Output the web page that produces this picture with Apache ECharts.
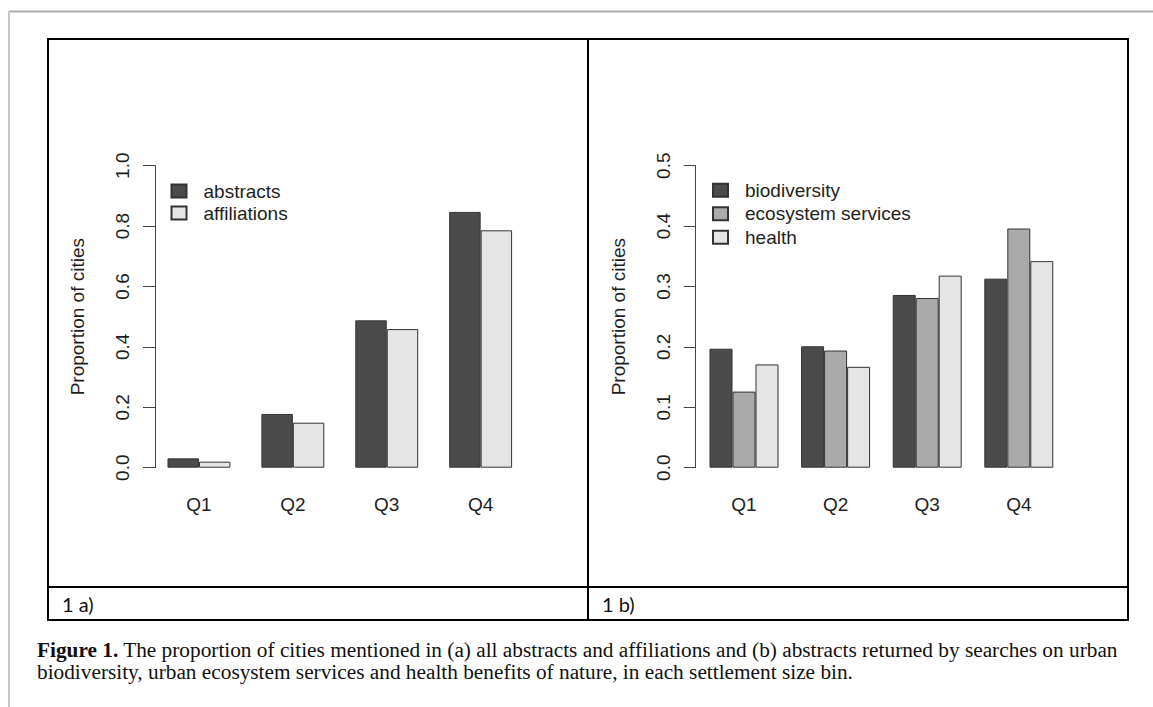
<!DOCTYPE html>
<html>
<head>
<meta charset="utf-8">
<script src="https://cdn.jsdelivr.net/npm/echarts@6/dist/echarts.min.js"></script>
<style>
html,body{margin:0;padding:0;background:#fff;}
#chart{width:1153px;height:707px;}
</style>
</head>
<body>
<div id="chart"></div>
<script>
// ---- data ----
var categories = ['Q1', 'Q2', 'Q3', 'Q4'];
var abstractsA = [0.031, 0.178, 0.488, 0.847];
var affiliationsA = [0.020, 0.149, 0.459, 0.786];
var biodiversityB = [0.197, 0.201, 0.286, 0.313];
var ecosystemB = [0.126, 0.194, 0.281, 0.396];
var healthB = [0.171, 0.167, 0.318, 0.342];
var yTicksA = [0, 0.2, 0.4, 0.6, 0.8, 1.0];
var yTicksB = [0, 0.1, 0.2, 0.3, 0.4, 0.5];
var panelLabels = ['1 a)', '1 b)'];
var captionBold = 'Figure 1.';
var captionLine1 = ' The proportion of cities mentioned in (a) all abstracts and affiliations and (b) abstracts returned by searches on urban';
var captionLine2 = 'biodiversity, urban ecosystem services and health benefits of nature, in each settlement size bin.';

var DARK = '#4b4b4b', MID = '#aaaaaa', LIGHT = '#e5e5e5', EDGE = '#333333';
var TXT = '#1e1e1e';
var FONT = 'Liberation Sans, Arial, sans-serif';

var chart = echarts.init(document.getElementById('chart'), null, {renderer: 'svg'});

function yAxisCfg(gridIndex, ticks, offset) {
  return {
    type: 'value', gridIndex: gridIndex,
    min: ticks[0], max: ticks[ticks.length - 1],
    interval: ticks[1] - ticks[0],
    offset: offset,
    name: 'Proportion of cities', nameLocation: 'middle', nameGap: 68,
    nameTextStyle: {fontFamily: FONT, fontSize: 19, color: TXT},
    axisLine: {show: true, lineStyle: {color: '#444', width: 1}},
    axisTick: {show: true, length: 12, lineStyle: {color: '#444', width: 1}},
    splitLine: {show: false},
    axisLabel: {rotate: 90, margin: 23, fontFamily: FONT, fontSize: 19, color: TXT,
      formatter: function (v) { return v.toFixed(1); }}
  };
}
function xAxisCfg(gridIndex) {
  return {
    type: 'category', gridIndex: gridIndex, data: categories,
    axisLine: {show: false}, axisTick: {show: false}, splitLine: {show: false},
    axisLabel: {margin: 27, fontFamily: FONT, fontSize: 19, color: TXT}
  };
}
function barSeries(name, data, color, idx, gap) {
  return {
    type: 'bar', name: name, data: data,
    xAxisIndex: idx, yAxisIndex: idx,
    barGap: '0%', barCategoryGap: gap,
    itemStyle: {color: color, borderColor: EDGE, borderWidth: 1},
    emphasis: {disabled: true}, animation: false
  };
}
function legendCfg(names, left, top, lh) {
  return {
    orient: 'vertical', left: left, top: top, data: names, padding: 0,
    icon: 'rect', itemWidth: 15, itemHeight: 13, itemGap: 0,
    selectedMode: false,
    textStyle: {fontFamily: FONT, fontSize: 19, color: TXT, lineHeight: lh, padding: [0, 0, 0, 12]}
  };
}

var option = {
  backgroundColor: '#ffffff',
  animation: false,
  grid: [
    {left: 152, top: 165.7, width: 375.6, height: 302, containLabel: false},
    {left: 698.2, top: 165.7, width: 366.4, height: 302, containLabel: false}
  ],
  xAxis: [xAxisCfg(0), xAxisCfg(1)],
  yAxis: [yAxisCfg(0, yTicksA, -3), yAxisCfg(1, yTicksB, 2.5)],
  legend: [
    legendCfg(['abstracts', 'affiliations'], 170.5, 180, 22),
    legendCfg(['biodiversity', 'ecosystem services', 'health'], 712, 178.5, 23.5)
  ],
  series: [
    barSeries('abstracts', abstractsA, DARK, 0, '33%'),
    barSeries('affiliations', affiliationsA, LIGHT, 0, '33%'),
    barSeries('biodiversity', biodiversityB, DARK, 1, '24.7%'),
    barSeries('ecosystem services', ecosystemB, MID, 1, '24.7%'),
    barSeries('health', healthB, LIGHT, 1, '24.7%')
  ],
  graphic: [
    // page frame
    {type: 'line', shape: {x1: 9, y1: 11.5, x2: 1153, y2: 11.5}, style: {stroke: '#a9a9a9', lineWidth: 2}, silent: true},
    {type: 'line', shape: {x1: 9, y1: 11, x2: 9, y2: 707}, style: {stroke: '#c8c8c8', lineWidth: 2}, silent: true},
    // table
    {type: 'rect', shape: {x: 48, y: 39, width: 1080, height: 581}, style: {fill: 'none', stroke: '#000', lineWidth: 2}, silent: true},
    {type: 'line', shape: {x1: 588, y1: 39, x2: 588, y2: 620}, style: {stroke: '#000', lineWidth: 2}, silent: true},
    {type: 'line', shape: {x1: 48, y1: 587, x2: 1128, y2: 587}, style: {stroke: '#000', lineWidth: 2}, silent: true},
    {type: 'text', x: 62, y: 604, style: {text: panelLabels[0], font: '20px Lato, "Open Sans", sans-serif', fill: '#111', verticalAlign: 'middle'}, silent: true},
    {type: 'text', x: 602, y: 604, style: {text: panelLabels[1], font: '20px Lato, "Open Sans", sans-serif', fill: '#111', verticalAlign: 'middle'}, silent: true},
    // caption
    {type: 'text', x: 37, y: 650, silent: true,
      style: {text: '{b|' + captionBold + '}' + '{n|' + captionLine1 + '}', verticalAlign: 'middle',
        rich: {
          b: {fontFamily: 'Liberation Serif, serif', fontSize: 21.3, fontWeight: 'bold', fill: '#111'},
          n: {fontFamily: 'Liberation Serif, serif', fontSize: 21.3, fill: '#111'}
        }}},
    {type: 'text', x: 37, y: 672, silent: true,
      style: {text: captionLine2, font: '21.3px "Liberation Serif", serif', fill: '#111', verticalAlign: 'middle'}}
  ]
};
chart.setOption(option);
</script>
</body>
</html>
